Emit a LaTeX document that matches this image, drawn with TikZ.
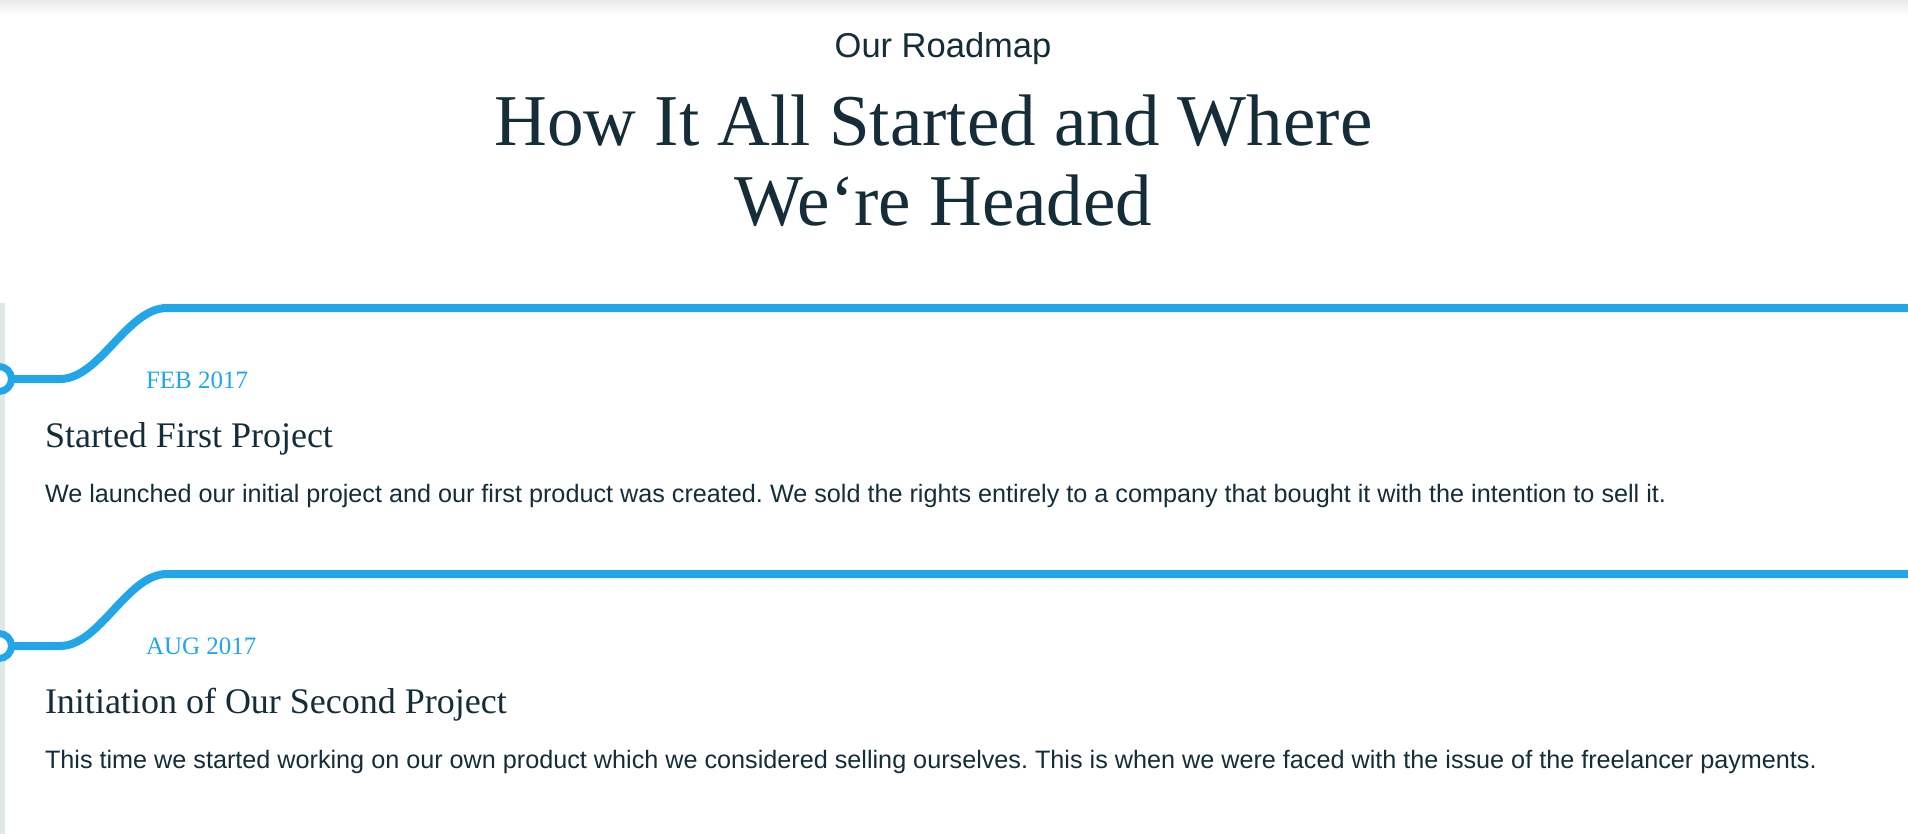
\documentclass[tikz,border=0pt]{standalone}
\usepackage{fontspec}
\setmainfont{Liberation Serif}
\newfontfamily\arialf{Liberation Sans}
\definecolor{tlblue}{RGB}{34,166,232}
\definecolor{ink}{RGB}{20,45,56}
\definecolor{rail}{RGB}{225,231,231}
\frenchspacing
\begin{document}
\begin{tikzpicture}[x=1pt,y=-1pt,
  txt/.style={inner sep=0pt, outer sep=0pt, text=ink, anchor=base west},
  datetxt/.style={txt, text=tlblue, font=\fontsize{25}{30}\selectfont},
  headtxt/.style={txt, font=\fontsize{36}{42}\selectfont},
  bodytxt/.style={txt, font=\arialf\fontsize{25.2}{30}\selectfont},
  tl/.style={draw=tlblue, line width=8pt},
  dot/.style={circle, draw=tlblue, fill=white, line width=7pt, minimum size=25pt, inner sep=0pt}]
\useasboundingbox (0,0) rectangle (1908,834);
\fill[white] (0,0) rectangle (1908,834);
\shade[top color=black!8, bottom color=white] (0,0) rectangle (1908,16);
\fill[rail] (0,303) rectangle (4.5,834);

% header
\node[txt, anchor=base, font=\arialf\fontsize{34.5}{40}\selectfont] (sub) at (943,58) {Our Roadmap};
\node[txt, anchor=base, font=\fontsize{73}{80}\selectfont] (t1) at (933.5,146) {How It All Started and Where};
\node[txt, anchor=base, font=\fontsize{73}{80}\selectfont] (t2) at (943.5,226) {We‘re Headed};

% item 1
\coordinate (a1) at (1908,308);
\coordinate (b1) at (167,308);
\coordinate (c1) at (60,379);
\coordinate (p1) at (-1,379);
\draw[tl] (a1) -- (b1) .. controls (127,308) and (100,379) .. (c1) -- (p1);
\node[dot] (d1) at (p1) {};
\node[datetxt] (date1) at (146,388) {FEB 2017};
\node[headtxt] (head1) at (45,447) {Started First Project};
\node[bodytxt] (body1) at (45,502) {We launched our initial project and our first product was created. We sold the rights entirely to a company that bought it with the intention to sell it.};

% item 2
\coordinate (a2) at (1908,574);
\coordinate (b2) at (167,574);
\coordinate (c2) at (60,646);
\coordinate (p2) at (-1,646);
\draw[tl] (a2) -- (b2) .. controls (127,574) and (100,646) .. (c2) -- (p2);
\node[dot] (d2) at (p2) {};
\node[datetxt] (date2) at (146,654) {AUG 2017};
\node[headtxt] (head2) at (45,713) {Initiation of Our Second Project};
\node[bodytxt] (body2) at (45,768) {This time we started working on our own product which we considered selling ourselves. This is when we were faced with the issue of the freelancer payments.};
\end{tikzpicture}
\end{document}
